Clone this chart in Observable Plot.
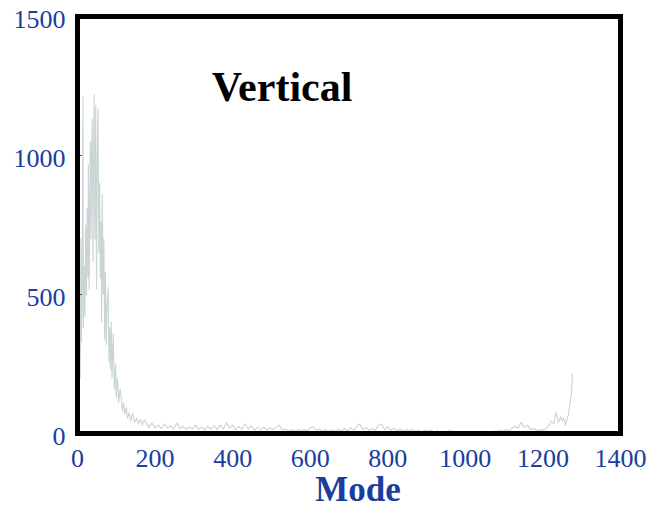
<!DOCTYPE html>
<html>
<head>
<meta charset="utf-8">
<script src="https://cdn.jsdelivr.net/npm/d3@7"></script>
<script src="https://cdn.jsdelivr.net/npm/@observablehq/plot@0.6"></script>
<style>
  html, body { margin: 0; padding: 0; background: #ffffff; }
  #chart { width: 654px; height: 509px; }
</style>
</head>
<body>
<div id="chart"></div>
<script>
// Count per mode, vertical component: sharp peak near low modes, long flat tail, rise at the end.
const peakModes = [1,3,5,7,9,10,12,14,15,17,19,21,23,25,27,28,30,33,35,36,38,40,41,43,45,47,49,51,53,55,57,59,61,62,64,66,68,70,72,74,76,79,81,83,85,87,89,92,95,98,100,103,106,110,113,116,119,122,126,129,133,137,142,147,152,157,162,167,172];
const peakCounts = [290,150,330,200,700,330,520,1210,380,600,420,750,500,810,560,970,520,1050,700,1000,1130,620,900,1220,700,1180,520,1000,1165,650,900,560,760,400,860,500,700,340,580,320,450,525,260,380,230,400,200,360,160,250,130,200,110,160,125,80,110,70,93,55,75,45,72,40,55,35,50,30,50];

// Flat middle range, sampled every 8 modes from 176 to 1216
const tailStart = 176;
const tailStep = 8;
const tailCounts = [40,22,38,20,30,18,34,20,28,16,
  38,18,26,14,24,16,30,14,24,12,
  26,15,28,14,30,16,40,18,30,14,
  26,15,35,16,28,12,22,13,24,12,
  20,14,22,30,12,16,8,14,7,15,
  8,14,9,20,25,10,16,8,14,7,
  13,8,15,9,18,10,20,12,26,34,
  14,22,10,18,12,30,34,14,24,12,
  18,9,16,8,14,10,15,7,12,6,
  13,8,12,5,10,4,9,6,11,4,
  8,3,7,1,6,3,8,2,6,4,
  9,5,10,6,12,8,14,10,18,26,
  20,40,22,30,14,18,10,14,12,18,
  30];

// Rise at the highest modes
const endModes = [1222,1228,1234,1240,1246,1250,1254,1258,1262,1266,1270,1274,1276];
const endCounts = [45,35,76,40,60,45,55,30,50,70,110,150,215];

const xTicks = [0,200,400,600,800,1000,1200,1400];
const yTicks = [0,500,1000,1500];
const titleText = "Vertical";
const xLabel = "Mode";

const series = [
  ...peakModes.map((m, i) => ({mode: m, count: peakCounts[i]})),
  ...tailCounts.map((c, i) => ({mode: tailStart + i * tailStep, count: c})),
  ...endModes.map((m, i) => ({mode: m, count: endCounts[i]}))
];

const serif = "'Liberation Serif', 'DejaVu Serif', serif";
const blue = "#1b3d9e";
const plain = d3.format("d");

const chart = Plot.plot({
  width: 654,
  height: 509,
  marginLeft: 77,
  marginRight: 34,
  marginTop: 16,
  marginBottom: 76,
  style: {background: "#ffffff", overflow: "visible", fontFamily: serif},
  x: {domain: [0, 1400], label: null},
  y: {domain: [0, 1500], label: null},
  marks: [
    Plot.line(series, {x: "mode", y: "count", stroke: "#c9d4d4", strokeWidth: 1.1}),
    Plot.axisY({ticks: [500, 1000], tickSize: -5, tickFormat: () => "", stroke: "#555555", label: null}),
    Plot.axisY({ticks: yTicks, tickSize: 0, tickPadding: 12, dy: 3, tickFormat: plain, fill: blue, fontSize: 26, fontFamily: serif, label: null}),
    Plot.axisX({ticks: xTicks, tickSize: 0, tickPadding: 15, tickFormat: plain, fill: blue, fontSize: 26, fontFamily: serif, label: null}),
    Plot.frame({stroke: "#000000", strokeWidth: 5}),
    Plot.text([titleText], {frameAnchor: "top", dx: -67, dy: 84, lineAnchor: "bottom", text: d => d, fontSize: 42, fontWeight: "bold", fontFamily: serif, fill: "#000000"}),
    Plot.text([xLabel], {frameAnchor: "bottom", dx: 9, dy: 56, lineAnchor: "middle", text: d => d, fontSize: 35, fontWeight: "bold", fontFamily: serif, fill: blue})
  ]
});

document.getElementById("chart").appendChild(chart);
</script>
</body>
</html>
